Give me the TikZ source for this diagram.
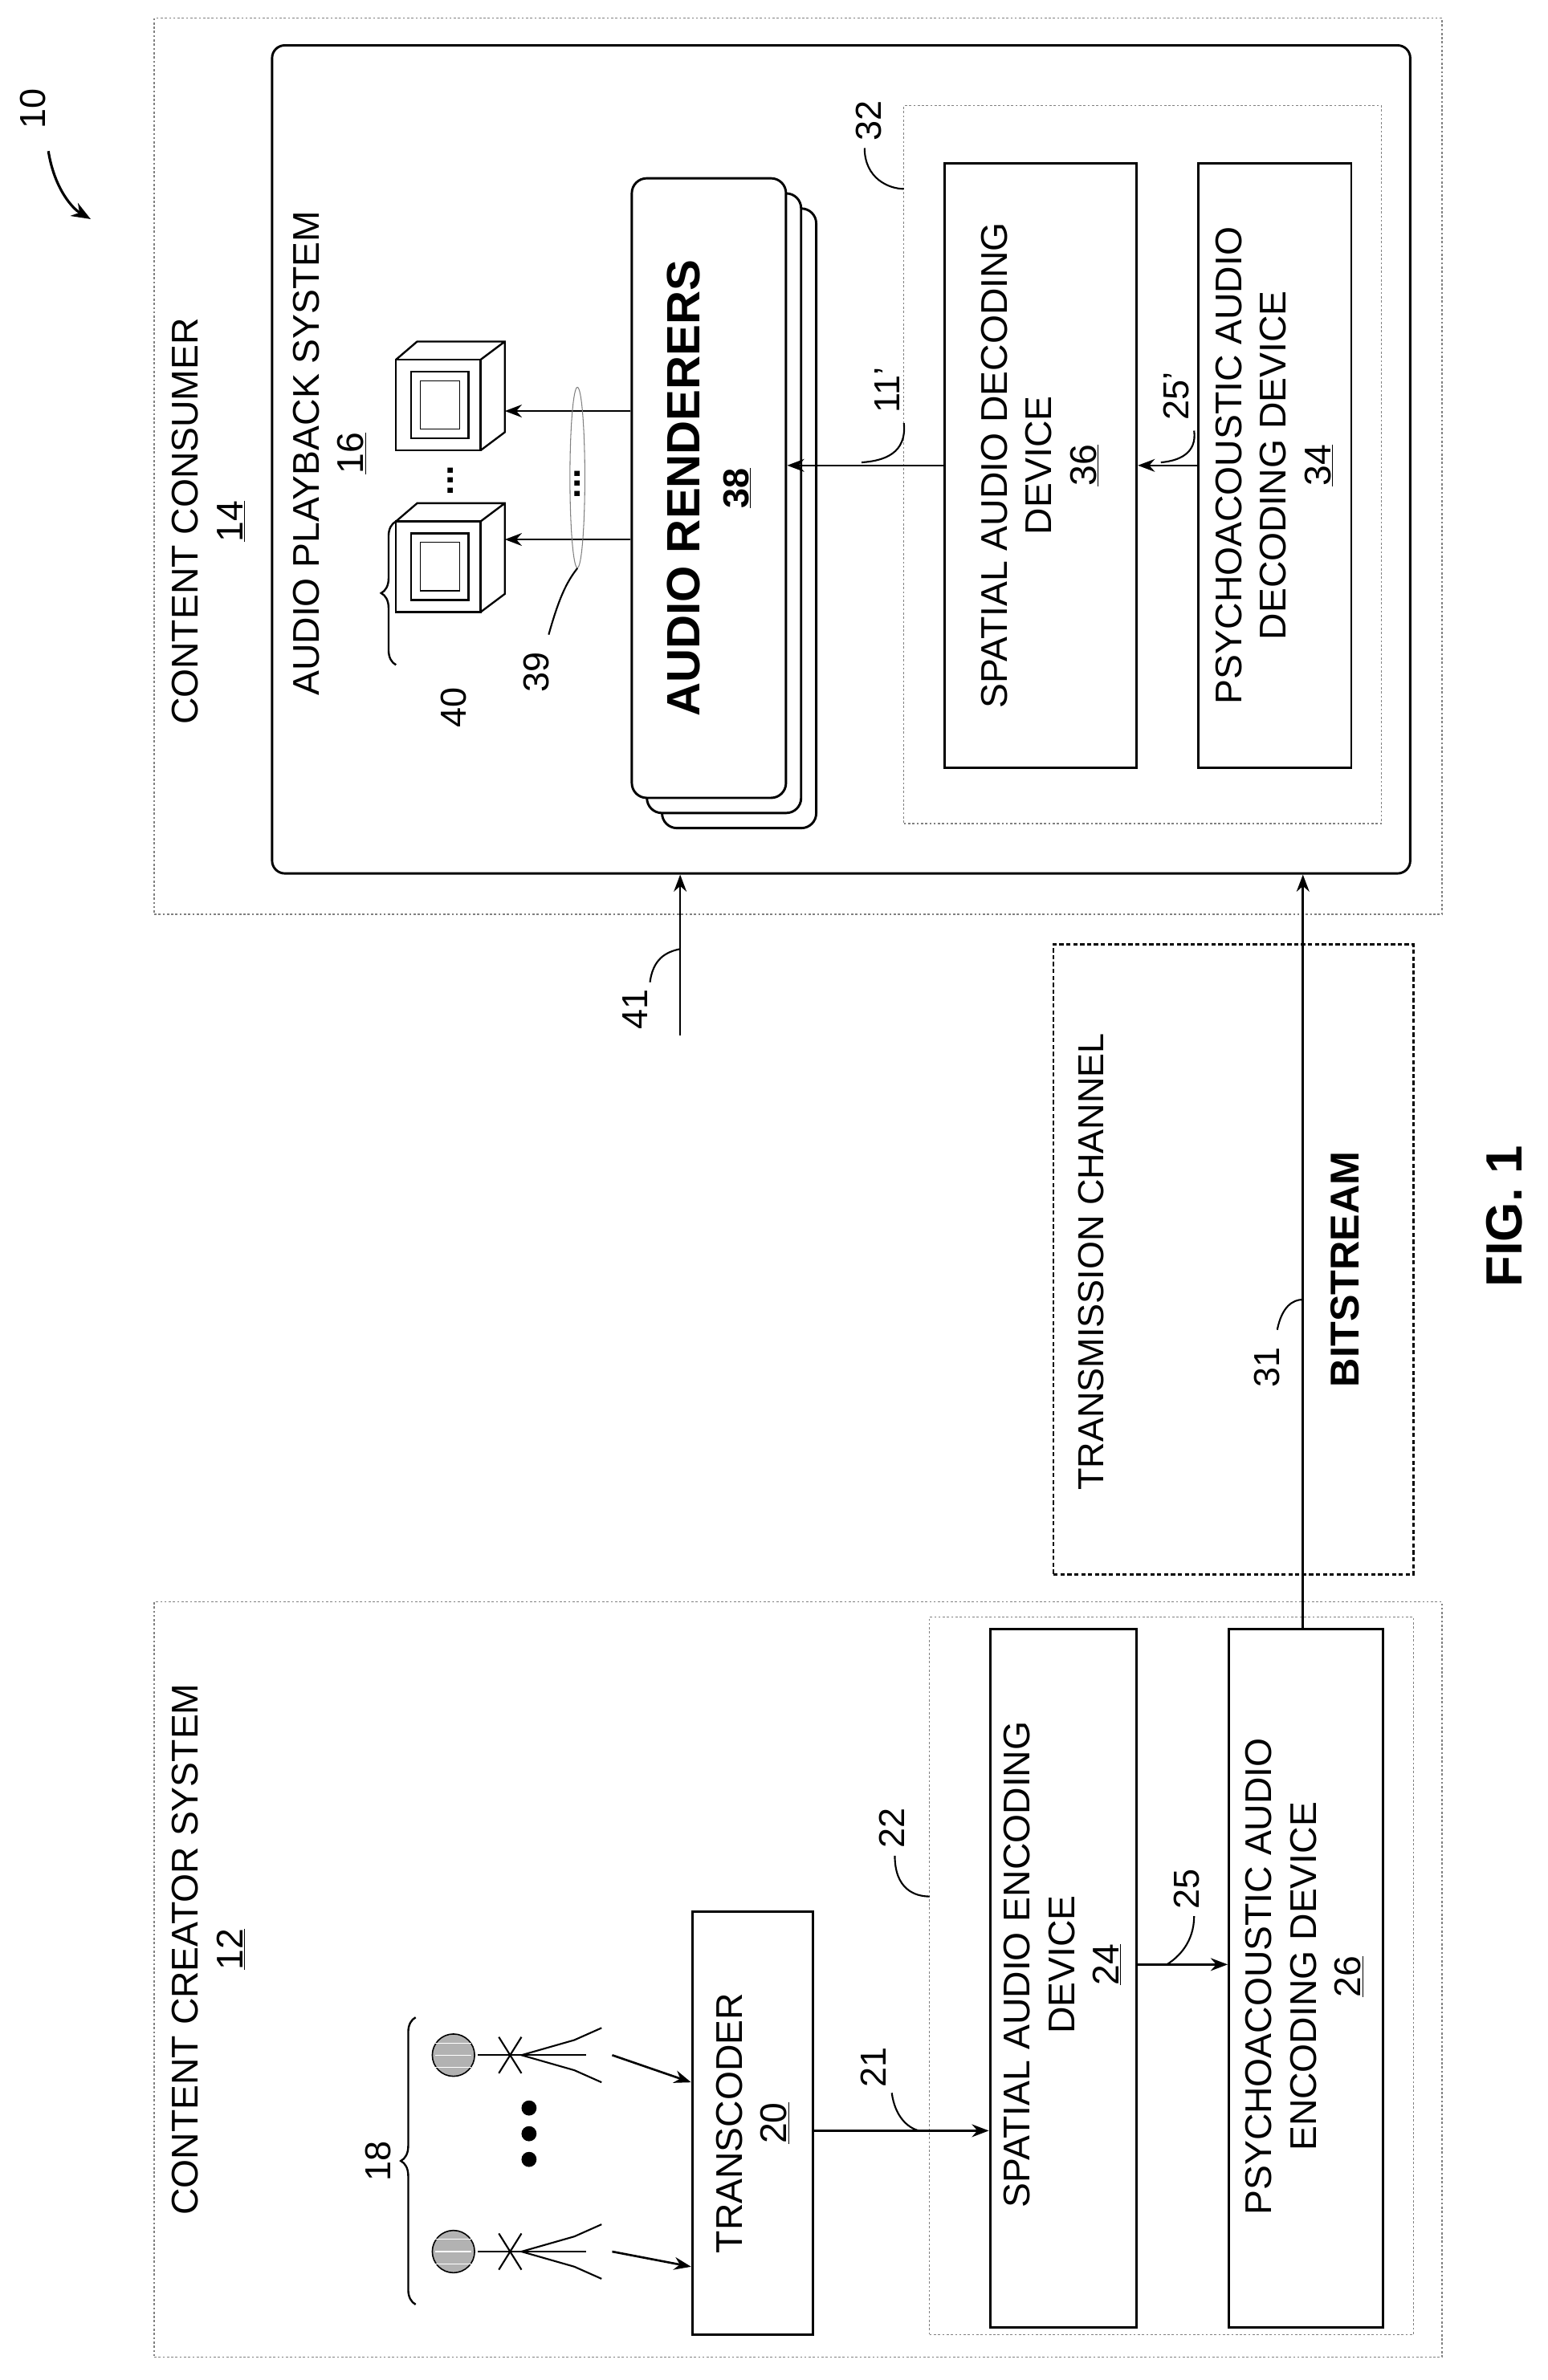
\documentclass[tikz,border=0pt]{standalone}
\usepackage{fontspec}
\setmainfont{Liberation Sans}
\usetikzlibrary{arrows.meta,fit,calc,decorations.pathreplacing,shapes.geometric}
\begin{document}
\begin{tikzpicture}[x=0.05cm,y=-0.05cm,
  box/.style={draw,line width=2.2pt,inner sep=0pt},
  dotbox/.style={draw=gray,line width=0.9pt,dash pattern=on 2pt off 2pt,inner sep=0pt},
  txt/.style={rotate=90,align=center,font=\fontsize{35}{42}\selectfont},
  lbl/.style={rotate=90,font=\fontsize{34}{40}\selectfont},
  arr/.style={line width=2pt,-{Stealth[length=16pt,width=12pt]}},
  lead/.style={line width=1.6pt}]
\useasboundingbox (0,0) rectangle (1024,1575);
% Content consumer
\node[dotbox,fit={(102,12)(954,605)}] (cc) {};
\node[box,rounded corners=12pt,fit={(180,30)(933,578)}] (aps) {};
\node[dotbox,fit={(598,70)(914,545)}] (d32) {};
\node[box,fit={(625,108)(752,508)}] (sdec) {};
\node[box,fit={(793,108)(894,508)}] (pdec) {};
\foreach \o in {20,10}{\draw[box,rounded corners=14pt,fill=white] (418+\o,118+\o) rectangle (520+\o,528+\o);}
\node[box,rounded corners=14pt,fill=white,fit={(418,118)(520,528)}] (rend) {};
\node[txt] at (469,323) {\fontsize{44}{50}\selectfont\bfseries AUDIO RENDERERS\\[4pt]\fontsize{34}{40}\selectfont\bfseries\underline{38}};
\node[txt] at (688,308) {SPATIAL AUDIO DECODING\\DEVICE\\\underline{36}};
\node[txt] at (843,308) {PSYCHOACOUSTIC AUDIO\\DECODING DEVICE\\\underline{34}};
\node[txt] at (138,345) {CONTENT CONSUMER\\\underline{14}};
\node[txt] at (218,300) {AUDIO PLAYBACK SYSTEM\\\underline{16}};
% speakers
\foreach \yy/\nm in {238/spA,345/spB}{
  \draw[line width=1.8pt,fill=white] (262,\yy) rectangle (318,\yy+60);
  \draw[line width=1.8pt] (262,\yy) -- (276,\yy-12) -- (334,\yy-12) -- (334,\yy+48) -- (318,\yy+60) (318,\yy) -- (334,\yy-12);
  \draw[line width=1.8pt] (272,\yy+8) rectangle (310,\yy+52);
  \draw[line width=1pt] (278,\yy+14) rectangle (304,\yy+46);
  \coordinate (\nm) at (334,\yy+24);}
\node[lbl] at (298,318) {\bfseries ...};
\draw[arr] (rend.west |- 0,272) -- (spA |- 0,272);
\draw[arr] (rend.west |- 0,357) -- (spB |- 0,357);
\node[draw=gray,line width=0.8pt,ellipse,minimum width=14pt,minimum height=170pt,inner sep=0pt] (e39) at (382,316) {};
\node[lbl] at (382,320) {\bfseries ...};
\node[lbl] (n39) at (355,445) {39};
\draw[lead] (363,420) .. controls (370,395) and (375,385) .. (e39.south);
\draw[line width=1.8pt,decorate,decoration={brace,amplitude=14pt}] (262,440) -- (262,345);
\node[lbl] at (300,468) {40};
% inner arrows
\draw[arr] (sdec.west) -- (rend.east |- sdec.west);
\node[lbl] at (587,258) {11'};
\draw[lead] (598,280) .. controls (600,300) and (585,305) .. (570,306);
\draw[arr] (pdec.west) -- (sdec.east |- pdec.west);
\node[lbl] at (778,262) {25'};
\draw[lead] (790,285) .. controls (792,300) and (780,305) .. (768,306);
\node[lbl] at (575,80) {32};
\draw[lead] (572,98) .. controls (572,118) and (588,125) .. (598,125);
% 41
\coordinate (s41) at (450,685);
\draw[arr] (s41) -- (aps.south -| s41);
\node[lbl] at (420,668) {41};
\draw[lead] (430,650) .. controls (432,635) and (440,630) .. (450,628);
% transmission
\node[draw,line width=2pt,dash pattern=on 4pt off 2.5pt,inner sep=0pt,fit={(697,625)(935,1042)}] (tc) {};
\node[lbl] at (722,835) {TRANSMISSION CHANNEL};
% content creator
\node[dotbox,fit={(102,1060)(954,1560)}] (ccs) {};
\node[txt] at (138,1290) {CONTENT CREATOR SYSTEM\\\underline{12}};
\node[dotbox,fit={(615,1070)(935,1545)}] (d22) {};
\node[box,fit={(655,1078)(752,1540)}] (senc) {};
\node[box,fit={(813,1078)(915,1540)}] (penc) {};
\node[box,fit={(458,1265)(538,1545)}] (trans) {};
\node[txt] at (703,1300) {SPATIAL AUDIO ENCODING\\DEVICE\\\underline{24}};
\node[txt] at (863,1308) {PSYCHOACOUSTIC AUDIO\\ENCODING DEVICE\\\underline{26}};
\node[txt] at (498,1405) {TRANSCODER\\\underline{20}};
\node[lbl] at (590,1210) {22};
\draw[lead] (592,1228) .. controls (592,1250) and (605,1255) .. (615,1255);
% bitstream
\draw[arr] (penc.north -| 862,0) -- (aps.south -| 862,0);
\node[lbl] at (890,840) {\fontsize{38}{44}\selectfont\bfseries BITSTREAM};
\node[lbl] at (838,905) {31};
\draw[lead] (845,880) .. controls (848,865) and (855,860) .. (862,860);
% arrows 21, 25
\draw[arr] (trans.east |- 0,1410) -- (senc.west |- 0,1410);
\node[lbl] at (578,1368) {21};
\draw[lead] (590,1385) .. controls (592,1400) and (600,1408) .. (608,1410);
\draw[arr] (senc.east |- 0,1300) -- (penc.west |- 0,1300);
\node[lbl] at (785,1250) {25};
\draw[lead] (790,1268) .. controls (790,1285) and (780,1295) .. (772,1300);
% microphones
\foreach \yy/\nm in {1360/mA,1490/mB}{
  \draw[line width=1.2pt,fill=gray!60] (300,\yy) circle (14);
  \foreach \k in {-8,0,8}{\draw[line width=0.8pt,white] (288,\yy+\k) -- (312,\yy+\k);}
  \draw[line width=1.6pt] (316,\yy) -- (388,\yy);
  \draw[line width=1.6pt] (330,\yy-12) -- (345,\yy+12) (345,\yy-12) -- (330,\yy+12)
      (345,\yy) -- (380,\yy-10) (345,\yy) -- (380,\yy+10)
      (380,\yy-10) -- (398,\yy-18) (380,\yy+10) -- (398,\yy+18);
  \coordinate (\nm) at (405,\yy);}
\foreach \yy in {1395,1412,1429}{\fill (350,\yy) circle (5);}
\draw[arr] (mA) -- (trans.west |- 0,1378);
\draw[arr] (mB) -- (trans.west |- 0,1500);
\draw[line width=1.8pt,decorate,decoration={brace,amplitude=14pt}] (275,1525) -- (275,1335);
\node[lbl] at (250,1430) {18};
% 10 and fig
\node[lbl] at (22,72) {10};
\draw[line width=2.4pt,-{Stealth[length=18pt,width=14pt]}] (32,100) .. controls (36,125) and (48,138) .. (60,145);
\node[rotate=90,font=\fontsize{48}{54}\selectfont\bfseries] at (995,805) {FIG. 1};
\end{tikzpicture}
\end{document}
